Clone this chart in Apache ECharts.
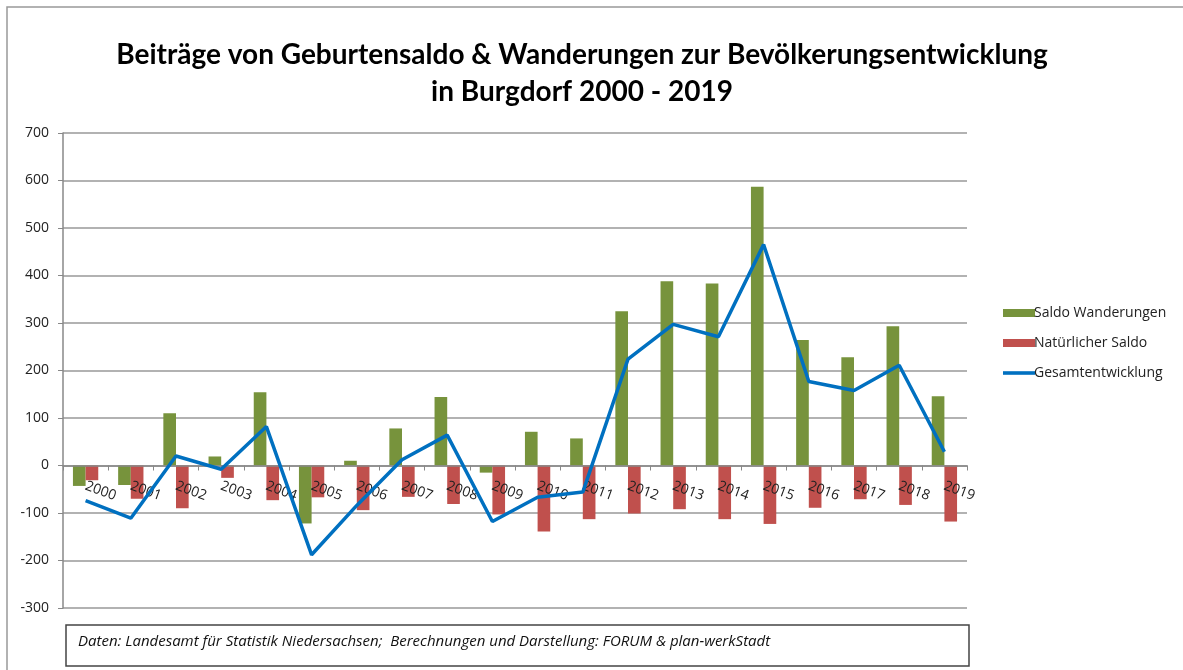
<!DOCTYPE html>
<html>
<head>
<meta charset="utf-8">
<script src="https://cdn.jsdelivr.net/npm/echarts@6/dist/echarts.min.js"></script>
<style>
  html, body { margin: 0; padding: 0; background: #fff; }
  #chart { width: 1183px; height: 670px; }
</style>
</head>
<body>
<div id="chart"></div>
<script>
const years = ["2000", "2001", "2002", "2003", "2004", "2005", "2006", "2007", "2008", "2009",
  "2010", "2011", "2012", "2013", "2014", "2015", "2016", "2017", "2018", "2019"];
const saldoWanderungen = [-43, -41, 110, 19, 154, -122, 10, 78, 144, -15,
  71, 57, 325, 388, 383, 587, 264, 228, 293, 146];
const natuerlicherSaldo = [-31, -70, -90, -26, -73, -67, -94, -66, -81, -103,
  -139, -113, -101, -92, -113, -123, -89, -71, -83, -118];
const gesamtentwicklung = [-74, -111, 20, -8, 82, -188, -84, 12, 64, -118,
  -67, -56, 224, 297, 271, 465, 177, 158, 211, 29];

const chart = echarts.init(document.getElementById("chart"));
const titleFont = "Lato, sans-serif";
const font = "'Open Sans', sans-serif";

chart.setOption({
  backgroundColor: "#fff",
  animation: false,
  title: {
    text: "Beiträge von Geburtensaldo & Wanderungen zur Bevölkerungsentwicklung\nin Burgdorf 2000 - 2019",
    left: 577,
    textAlign: "center",
    top: 31,
    textStyle: {
      fontFamily: titleFont,
      fontWeight: "bold",
      fontSize: 28,
      lineHeight: 37,
      color: "#000"
    }
  },
  legend: {
    orient: "vertical",
    left: 998,
    top: 301,
    itemWidth: 32,
    itemHeight: 8,
    itemGap: 16,
    textStyle: { fontFamily: font, fontSize: 14, color: "#222", padding: [0, 0, 0, -6] },
    data: [
      { name: "Saldo Wanderungen", icon: "rect" },
      { name: "Natürlicher Saldo", icon: "rect" },
      {
        name: "Gesamtentwicklung",
        icon: "path://M0,0 M0,2.2 L32,2.2 L32,5.8 L0,5.8 Z M32,8",
        itemStyle: { color: "#0070C0" }
      }
    ]
  },
  grid: { left: 63, right: 216, top: 133, bottom: 62 },
  xAxis: {
    type: "category",
    data: years,
    offset: -142.5,
    z: 10,
    axisLine: { onZero: false, lineStyle: { color: "#888", width: 1.5 } },
    axisTick: { show: true, length: 5, lineStyle: { color: "#888" } },
    axisLabel: {
      rotate: -20,
      margin: 20,
      fontFamily: font,
      fontSize: 14,
      color: "#222"
    }
  },
  yAxis: {
    type: "value",
    min: -300,
    max: 700,
    interval: 100,
    axisLine: { show: true, lineStyle: { color: "#888", width: 1.5 } },
    axisTick: { show: true, length: 5, lineStyle: { color: "#888" } },
    axisLabel: { fontFamily: font, fontSize: 14, color: "#222", margin: 14 },
    splitLine: { lineStyle: { color: "#999", width: 1.5 } }
  },
  series: [
    {
      name: "Saldo Wanderungen",
      type: "bar",
      data: saldoWanderungen,
      barGap: "0%",
      barCategoryGap: "44%",
      itemStyle: { color: "#77933C" }
    },
    {
      name: "Natürlicher Saldo",
      type: "bar",
      data: natuerlicherSaldo,
      itemStyle: { color: "#C0504D" }
    },
    {
      name: "Gesamtentwicklung",
      type: "line",
      data: gesamtentwicklung,
      symbol: "none",
      lineStyle: { color: "#0070C0", width: 3.5 },
      itemStyle: { color: "#0070C0" },
      z: 12
    }
  ],
  graphic: [
    {
      type: "polyline",
      shape: { points: [[7, 670], [7, 7], [1183, 7]] },
      style: { stroke: "#999", lineWidth: 1.5, fill: null },
      silent: true
    },
    {
      type: "rect",
      shape: { x: 66, y: 625, width: 903, height: 41 },
      style: { stroke: "#444", lineWidth: 1.5, fill: "#fff" },
      silent: true
    },
    {
      type: "text",
      left: 78,
      top: 634,
      style: {
        text: "Daten: Landesamt für Statistik Niedersachsen;  Berechnungen und Darstellung: FORUM & plan-werkStadt",
        fontFamily: font,
        fontStyle: "italic",
        fontSize: 15,
        fill: "#111"
      },
      silent: true
    }
  ]
});
</script>
</body>
</html>
